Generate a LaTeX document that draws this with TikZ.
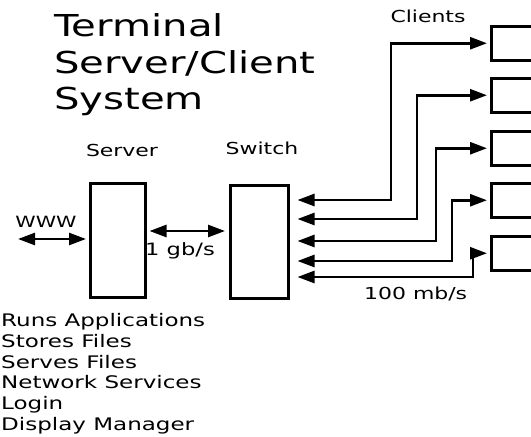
\documentclass[tikz,border=0pt]{standalone}
\usepackage{fontspec}
\setmainfont{DejaVu Sans}[FakeStretch=1.33]
\usetikzlibrary{arrows.meta}
\begin{document}
\begin{tikzpicture}[x=1pt,y=-1pt,
  box/.style={draw,line width=2.5pt,inner sep=0pt,anchor=north west},
  tip/.style={Triangle[length=17pt,width=12pt]},
  link/.style={line width=2.6pt,{Triangle[length=17pt,width=12pt]}-{Triangle[length=17pt,width=12pt]}},
  txt/.style={inner sep=0pt},
  titletxt/.style={txt,anchor=base west,font=\fontsize{30.2}{36}\selectfont},
  lbl/.style={txt,anchor=base,font=\fontsize{16.5}{19}\selectfont},
  listtxt/.style={txt,anchor=base west,font=\fontsize{17.3}{20}\selectfont}]
\useasboundingbox (0,0) rectangle (531,437);
\clip (0,0) rectangle (531,437);

% title
\node[titletxt] (t1) at (54,36) {Terminal};
\node[titletxt] (t2) at (54,73) {Server/Client};
\node[titletxt] (t3) at (54,109) {System};

% server and switch
\node[box,minimum width=55pt,minimum height=114pt] (server) at (89,182) {};
\node[box,minimum width=58pt,minimum height=113pt] (switch) at (229,184) {};
\node[lbl] (serverlbl) at (122,156) {Server};
\node[lbl] (switchlbl) at (262,154) {Switch};

% clients
\foreach \i/\y in {1/25,2/77,3/130,4/182,5/235}
  \node[box,minimum width=60pt,minimum height=34pt] (c\i) at (490,\y) {};
\node[lbl] (clientslbl) at (428,22) {Clients};

% uplink
\coordinate (www) at (18,239);
\draw[link,shorten >=3pt] (www) -- (www -| server.west);
\node[lbl,font=\fontsize{15.5}{19}\selectfont] (wwwlbl) at (46,227) {WWW};

% server to switch
\draw[link,shorten <=3pt,shorten >=4pt] (server.east |- 0,231) -- (switch.west |- 0,231);
\node[lbl,anchor=base west,font=\fontsize{17}{19}\selectfont] (gb) at (145,255) {1 gb/s};

% switch to clients
\foreach \i/\y/\vx in {1/200/391,2/219/417,3/241/436,4/261/452,5/277/473}
  \draw[link,shorten <=8pt,shorten >=3pt] (switch.east |- 0,\y) -| (\vx,0 |- c\i.west) -- (c\i.west);
\node[lbl,anchor=base west] (mb) at (364,299) {100 mb/s};

% server duties
\foreach \t [count=\k from 0] in {Runs Applications,Stores Files,Serves Files,Network Services,Login,Display Manager}
  \node[listtxt] (duty\k) at (1,326.5+20.8*\k) {\t};
\end{tikzpicture}
\end{document}
